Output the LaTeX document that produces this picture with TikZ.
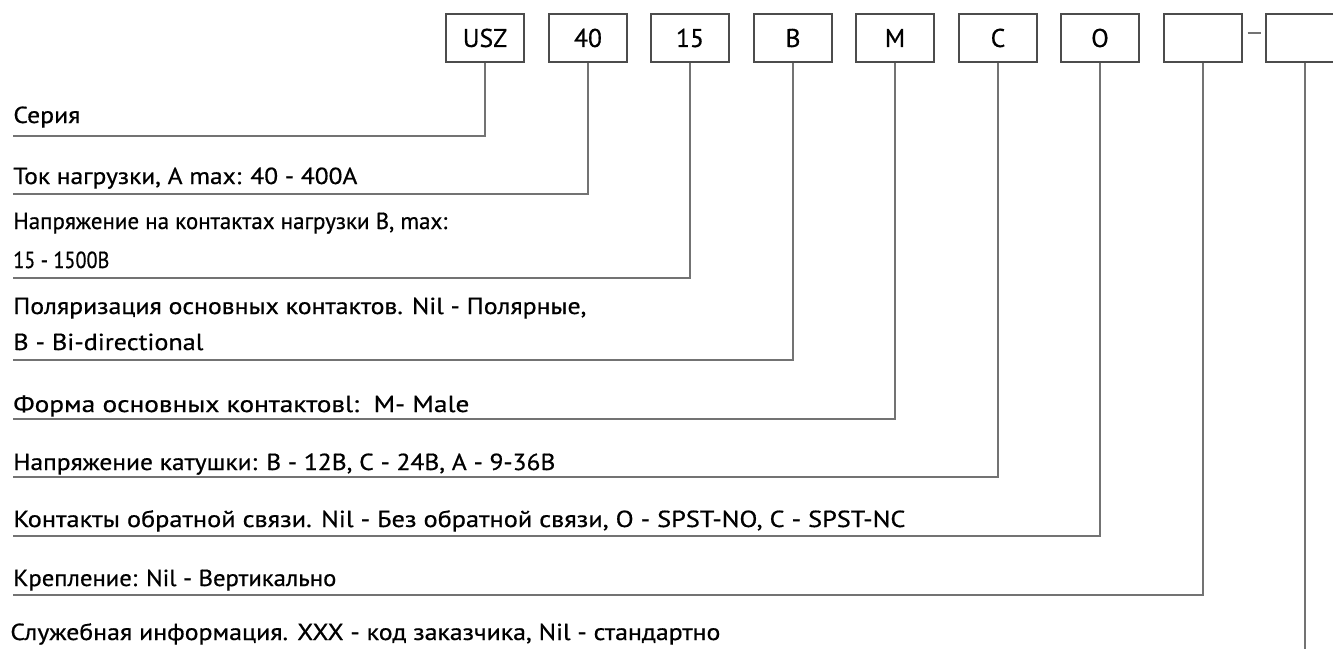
\documentclass[tikz,border=0pt]{standalone}
\usepackage{fontspec}
\setmainfont{PT Sans}[FakeBold=0.6]
\usetikzlibrary{positioning}

% one picture unit = one pixel of the sheet
\newlength\pxu
\setlength\pxu{0.02cm}
% set a label to the width it has on the sheet
\newcommand{\fitw}[2]{\resizebox{#1\pxu}{\height}{#2}}

\tikzset{
  codebox/.style={draw=black!70, line width=0.8pt, minimum width=1.56cm, minimum height=0.96cm, inner sep=0pt,
    font=\fontsize{14.6}{16}\selectfont},
  lbl/.style={anchor=base west, inner sep=0pt},
  lead/.style={draw=black!55, line width=0.8pt}
}

\begin{document}
\begin{tikzpicture}[x=0.02cm, y=-0.02cm, every node/.style={font=\fontsize{13.2}{16}\selectfont, text=black}]
  \path[use as bounding box, clip] (0,0) rectangle (1333,649);

  % === code boxes ===
  \node[codebox] (usz)  at (485,38)  {USZ};
  \node[codebox] (n40)  at (588,38)  {40};
  \node[codebox] (n15)  at (690,38)  {15};
  \node[codebox] (pol)  at (793,38)  {B};
  \node[codebox] (form) at (895,38)  {M};
  \node[codebox] (coil) at (998,38)  {C};
  \node[codebox] (aux)  at (1100,38) {O};
  \node[codebox] (mnt)  at (1203,38) {};
  \node[codebox] (info) at (1305,38) {};
  \draw[lead] ([shift={(5,-5)}]mnt.east) -- ([shift={(-4,-5)}]info.west);

  % === labels ===
  \node[lbl] (ser)   at (13,123) {\fitw{67}{Серия}};
  \node[lbl] (cur)   at (13,184) {\fitw{344}{Ток нагрузки, А max: 40 - 400А}};
  \node[lbl] (volt)  at (13,229) {\fitw{434}{Напряжение на контактах нагрузки В, max:}};
  \node[lbl] (volt2) at (13,268) {\fitw{96}{15 - 1500В}};
  \node[lbl] (plr)   at (13,314) {\fitw{573}{Поляризация основных контактов. Nil - Полярные,}};
  \node[lbl] (plr2)  at (13,350) {\fitw{190}{B - Bi-directional}};
  \node[lbl] (shp)   at (13,412) {\fitw{456}{Форма основных контактовl:\ \ M- Male}};
  \node[lbl] (cv)    at (13,470) {\fitw{542}{Напряжение катушки: В - 12В, С - 24В, А - 9-36В}};
  \node[lbl] (fb)    at (13,527) {\fitw{892}{Контакты обратной связи. Nil - Без обратной связи, O - SPST-NO, C - SPST-NC}};
  \node[lbl] (fix)   at (13,586) {\fitw{323}{Крепление: Nil - Вертикально}};
  \node[lbl] (srv)   at (10,640) {\fitw{710}{Служебная информация. XXX - код заказчика, Nil - стандартно}};

  % free ends of the leaders (left, under each label)
  \coordinate (serL)  at (13,136);
  \coordinate (curL)  at (13,194);
  \coordinate (voltL) at (13,278);
  \coordinate (plrL)  at (13,360);
  \coordinate (shpL)  at (13,419);
  \coordinate (cvL)   at (13,477);
  \coordinate (fbL)   at (13,536);
  \coordinate (fixL)  at (13,595);
  \coordinate (srvL)  at (1305,649);

  % === leaders ===
  \draw[lead] (usz.south)  |- (serL);
  \draw[lead] (n40.south)  |- (curL);
  \draw[lead] (n15.south)  |- (voltL);
  \draw[lead] (pol.south)  |- (plrL);
  \draw[lead] (form.south) |- (shpL);
  \draw[lead] (coil.south) |- (cvL);
  \draw[lead] (aux.south)  |- (fbL);
  \draw[lead] (mnt.south)  |- (fixL);
  \draw[lead] (info.south) -- (srvL);
\end{tikzpicture}
\end{document}
